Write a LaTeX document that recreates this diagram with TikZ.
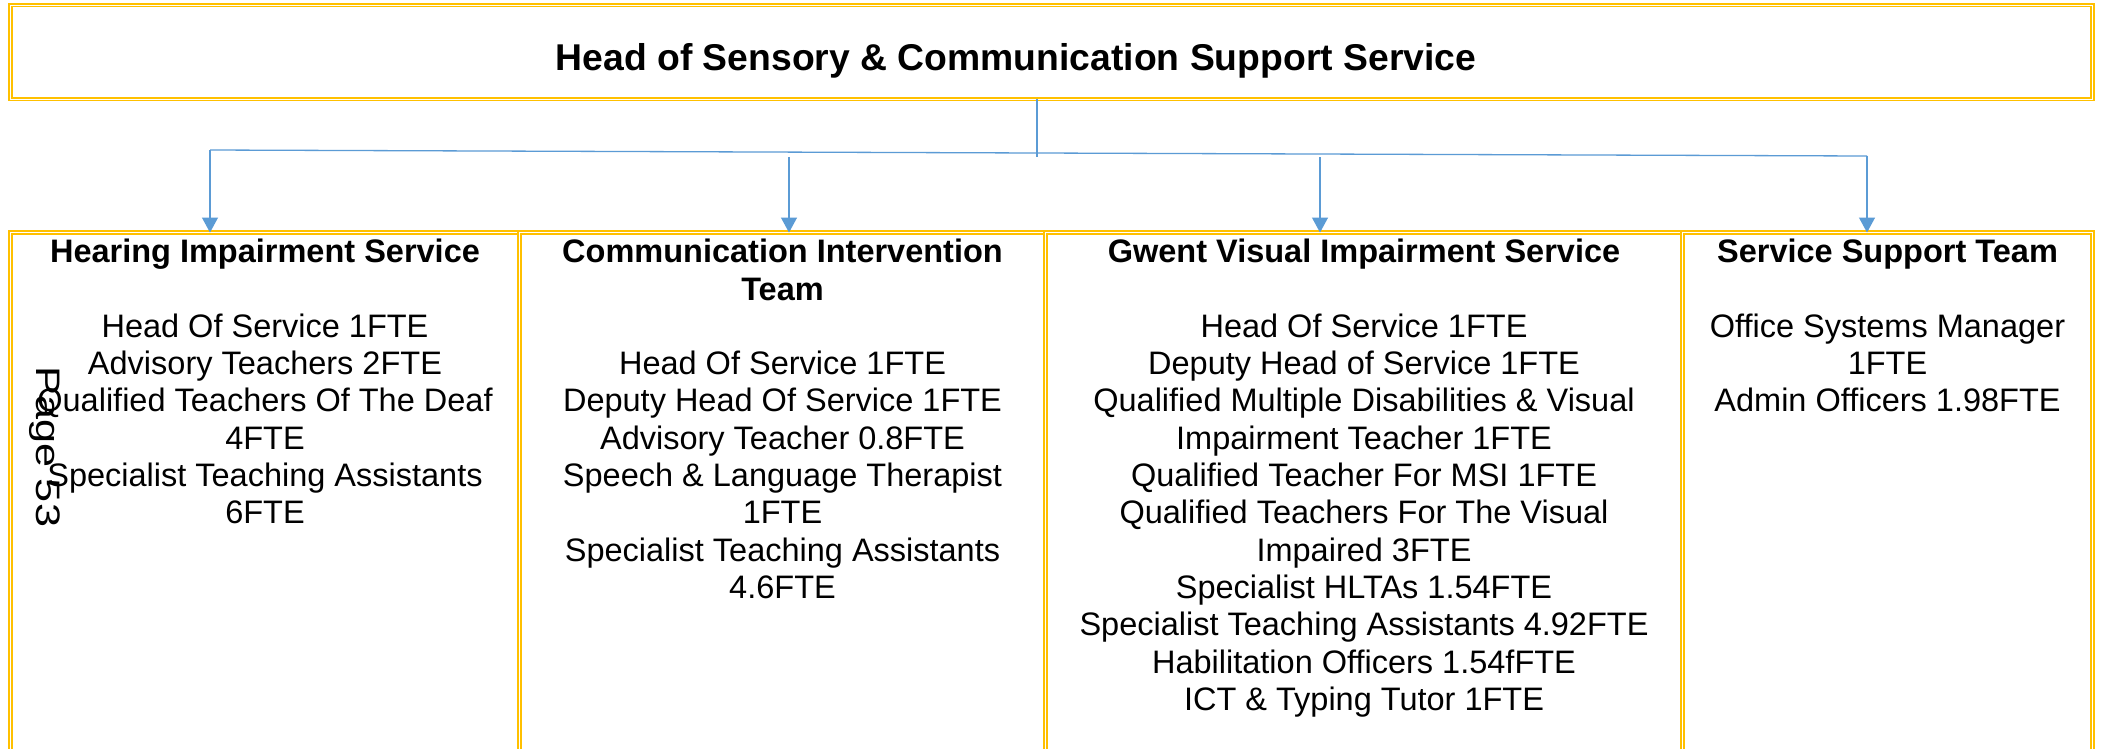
\documentclass[tikz,border=0pt]{standalone}
\usepackage{graphicx}
\usepackage{fontspec}
\setmainfont{Liberation Sans}
\usetikzlibrary{arrows.meta}
\definecolor{gold}{RGB}{255,192,0}
\definecolor{connblue}{RGB}{91,155,213}
\tikzset{
  dbox/.style={draw=gold, double=white, line width=1.4pt, double distance=1.3pt,
    inner sep=0pt, outer sep=0pt, anchor=north west},
  conn/.style={draw=connblue, line width=1.3pt},
  arr/.style={conn, -{Triangle[width=16pt,length=15pt]}},
  boxtext/.style={font=\fontsize{32.5}{37.3}\selectfont, align=center, inner sep=0pt, anchor=north},
  titletext/.style={font=\bfseries\fontsize{37.3}{43}\selectfont, inner sep=0pt, anchor=base},
  pagemark/.style={font=\fontsize{34}{40}\selectfont, rotate=-90, anchor=base west, inner sep=0pt}
}
\begin{document}
\begin{tikzpicture}[x=1pt,y=-1pt]
\useasboundingbox (0,0) rectangle (2103,748);
\fill[white] (0,0) rectangle (2103,748);

% boxes
\node[dbox, minimum width=2082pt, minimum height=94pt] (top) at (10.5,5.3) {};
\node[dbox, minimum width=509pt, minimum height=560pt] (b1) at (10.5,232.5) {};
\node[dbox, minimum width=526pt, minimum height=560pt] (b2) at (519.5,232.5) {};
\node[dbox, minimum width=637pt, minimum height=560pt] (b3) at (1045.5,232.5) {};
\node[dbox, minimum width=410pt, minimum height=560pt] (b4) at (1682.5,232.5) {};

% title
\node[titletext] (title) at (1016,70.7) {Head of Sensory \& Communication Support Service};

% connectors
\coordinate (hl) at (210,150);
\coordinate (hr) at (1867,156);
\coordinate (stem) at (1037,157);
\coordinate (a2) at (789,157);
\coordinate (a3) at (1320,157);
\draw[conn] (top.south -| stem) -- (stem);
\draw[conn] (hl) -- (hr);
\draw[arr] (hl) -- (hl |- b1.north);
\draw[arr] (a2) -- (a2 |- b2.north);
\draw[arr] (a3) -- (a3 |- b3.north);
\draw[arr] (hr) -- (hr |- b4.north);

% box texts
\node[boxtext] (t1) at ([yshift=-5pt]b1.north) {%
{\bfseries\rule{0pt}{25pt}Hearing Impairment Service}\\[37.3pt]
Head Of Service 1FTE\\
Advisory Teachers 2FTE\\
Qualified Teachers Of The Deaf\\
4FTE\\
Specialist Teaching Assistants\\
6FTE};

\node[boxtext] (t2) at ([yshift=-5pt]b2.north) {%
{\bfseries\rule{0pt}{25pt}Communication Intervention}\\
{\bfseries Team}\\[37.3pt]
Head Of Service 1FTE\\
Deputy Head Of Service 1FTE\\
Advisory Teacher 0.8FTE\\
Speech \& Language Therapist\\
1FTE\\
Specialist Teaching Assistants\\
4.6FTE};

\node[boxtext] (t3) at ([yshift=-5pt]b3.north) {%
{\bfseries\rule{0pt}{25pt}Gwent Visual Impairment Service}\\[37.3pt]
Head Of Service 1FTE\\
Deputy Head of Service 1FTE\\
Qualified Multiple Disabilities \& Visual\\
Impairment Teacher 1FTE\\
Qualified Teacher For MSI 1FTE\\
Qualified Teachers For The Visual\\
Impaired 3FTE\\
Specialist HLTAs 1.54FTE\\
Specialist Teaching Assistants 4.92FTE\\
Habilitation Officers 1.54fFTE\\
ICT \& Typing Tutor 1FTE};

\node[boxtext] (t4) at ([yshift=-5pt]b4.north) {%
{\bfseries\rule{0pt}{25pt}Service Support Team}\\[37.3pt]
Office Systems Manager\\
1FTE\\
Admin Officers 1.98FTE};

% page mark
\node[pagemark] (pg) at (36,366) {\scalebox{1.27}[1]{Page 53}};
\end{tikzpicture}
\end{document}
